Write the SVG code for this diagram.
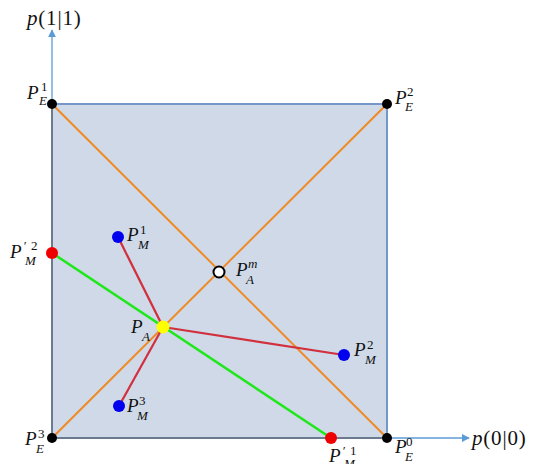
<svg xmlns="http://www.w3.org/2000/svg" width="534" height="464" viewBox="0 0 534 464">
<defs>
<style>
.lbl{font-family:"Liberation Serif","DejaVu Serif",serif;font-style:italic;font-size:19px;fill:#111}
.sm{font-size:13px}
.up{font-family:"Liberation Serif","DejaVu Serif",serif;font-size:13px;fill:#111}
.ax{font-family:"Liberation Serif","DejaVu Serif",serif;font-size:21px;letter-spacing:0.8px;fill:#111}
.orange{stroke:#f08a24;stroke-width:2;fill:none}
.red{stroke:#d1303c;stroke-width:2.2;fill:none}
.green{stroke:#1ee81a;stroke-width:2.6;fill:none}
.axis{stroke:#5b9bd5;stroke-width:1.3;fill:none}
</style>
<marker id="arr" viewBox="0 0 10 10" refX="9" refY="5" markerWidth="8" markerHeight="8" markerUnits="userSpaceOnUse" orient="auto">
<path d="M0,0 L10,5 L0,10 z" fill="#5b9bd5"/>
</marker>
</defs>
<rect width="534" height="464" fill="#ffffff"/>
<g id="axes">
<line class="axis" x1="52" y1="104" x2="52" y2="30" marker-end="url(#arr)"/>
<line class="axis" x1="387" y1="438" x2="469" y2="438" marker-end="url(#arr)"/>
<text class="ax" x="27" y="25"><tspan font-style="italic">p</tspan>(1|1)</text>
<text class="ax" x="472" y="445"><tspan font-style="italic">p</tspan>(0|0)</text>
</g>
<g id="square">
<rect x="52" y="104" width="335" height="334" fill="#cfd9e8"/>
<line x1="52" y1="104" x2="387" y2="104" stroke="#7496c8" stroke-width="2"/>
<line x1="387" y1="104" x2="387" y2="438" stroke="#7496c8" stroke-width="2"/>
<line x1="52" y1="104" x2="52" y2="438" stroke="#6b7a8f" stroke-width="2"/>
<line x1="52" y1="438" x2="387" y2="438" stroke="#6b7a8f" stroke-width="2"/>
</g>
<g id="connectors">
<line class="orange" x1="52" y1="104" x2="387" y2="438"/>
<line class="orange" x1="52" y1="438" x2="387" y2="104"/>
<line class="green" x1="52" y1="253" x2="331" y2="438"/>
<line class="red" x1="163" y1="327" x2="118" y2="237"/>
<line class="red" x1="163" y1="327" x2="344" y2="355"/>
<line class="red" x1="163" y1="327" x2="119" y2="406"/>
</g>
<g id="PE1">
<circle cx="52" cy="104" r="5" fill="#000"/>
<text class="lbl" x="27" y="99">P</text><text class="lbl sm" x="39" y="105">E</text><text class="up" x="41" y="91">1</text>
</g>
<g id="PE2">
<circle cx="387" cy="104" r="5" fill="#000"/>
<text class="lbl" x="395" y="104">P</text><text class="lbl sm" x="405" y="111">E</text><text class="up" x="407" y="96">2</text>
</g>
<g id="PE3">
<circle cx="52" cy="438" r="5" fill="#000"/>
<text class="lbl" x="25" y="445">P</text><text class="lbl sm" x="36" y="453">E</text><text class="up" x="38" y="438">3</text>
</g>
<g id="PE0">
<circle cx="387" cy="438" r="5" fill="#000"/>
<text class="lbl" x="395" y="453">P</text><text class="lbl sm" x="405" y="461">E</text><text class="up" x="406" y="446">0</text>
</g>
<g id="PAm">
<circle cx="219" cy="272" r="5.5" fill="#fff" stroke="#000" stroke-width="2"/>
<text class="lbl" x="236" y="276">P</text><text class="lbl sm" x="246" y="284">A</text><text class="lbl sm" x="248" y="268">m</text>
</g>
<g id="PA">
<circle cx="163" cy="327" r="6.5" fill="#ffff00"/>
<text class="lbl" x="131" y="333">P</text><text class="lbl sm" x="142" y="341">A</text>
</g>
<g id="PM1">
<circle cx="118" cy="237" r="6" fill="#0000ee"/>
<text class="lbl" x="127" y="241">P</text><text class="lbl sm" x="138" y="249">M</text><text class="up" x="140" y="234">1</text>
</g>
<g id="PM2">
<circle cx="344" cy="355" r="6" fill="#0000ee"/>
<text class="lbl" x="354" y="356">P</text><text class="lbl sm" x="365" y="364">M</text><text class="up" x="367" y="349">2</text>
</g>
<g id="PM3">
<circle cx="119" cy="406" r="6" fill="#0000ee"/>
<text class="lbl" x="127" y="412">P</text><text class="lbl sm" x="137" y="420">M</text><text class="up" x="139" y="405">3</text>
</g>
<g id="PpM2">
<circle cx="52" cy="253" r="6" fill="#ee0000"/>
<text class="lbl" x="10" y="258">P</text><text class="lbl sm" x="23" y="250">′</text><text class="lbl sm" x="25" y="265">M</text><text class="up" x="31" y="250">2</text>
</g>
<g id="PpM1">
<circle cx="331" cy="438" r="6" fill="#ee0000"/>
<text class="lbl" x="329" y="462">P</text><text class="lbl sm" x="342" y="455">′</text><text class="lbl sm" x="344" y="468">M</text><text class="up" x="350" y="455">1</text>
</g>
</svg>
